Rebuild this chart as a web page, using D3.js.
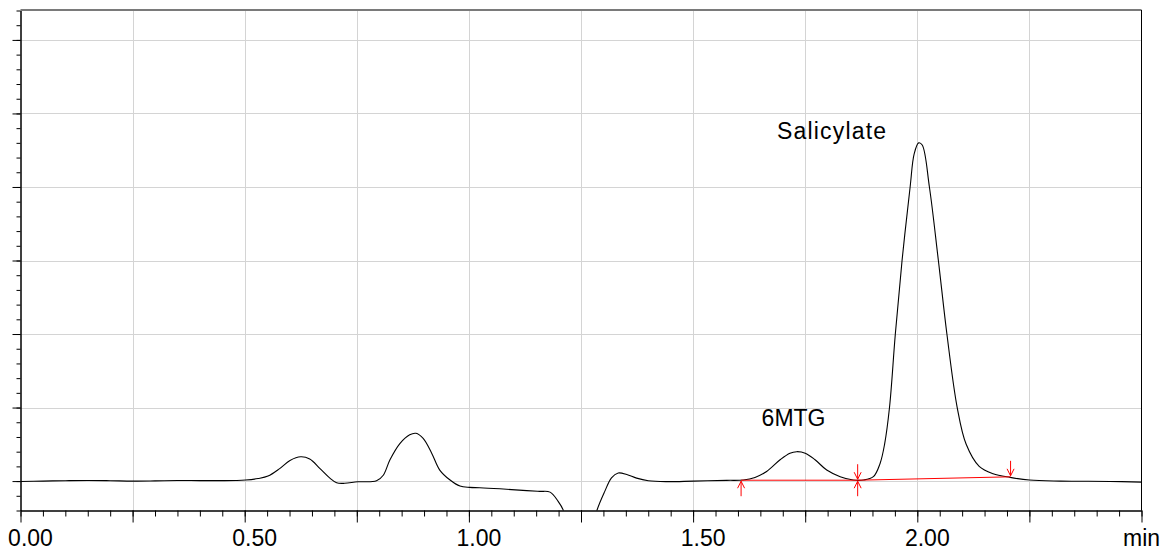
<!DOCTYPE html>
<html>
<head>
<meta charset="utf-8">
<script src="https://cdn.jsdelivr.net/npm/d3@7"></script>
<style>
  body { margin: 0; background: #fff; }
  svg { display: block; font-family: "Liberation Sans", Arial, sans-serif; }
  .grid line { stroke: #d4d4d4; stroke-width: 1; }
  .axis path, .axis line { stroke: #000; }
</style>
</head>
<body>
<svg id="chart"></svg>
<script>
// chromatogram trace (time in min, detector signal)
const timeMin = [0.000, 0.05, 0.10, 0.15, 0.20, 0.25, 0.30, 0.35, 0.40, 0.45, 0.48,
  0.502, 0.53, 0.552, 0.578, 0.601, 0.625, 0.645, 0.668, 0.690, 0.705, 0.723, 0.752,
  0.794, 0.809, 0.824, 0.846, 0.868, 0.882, 0.898, 0.917, 0.935, 0.958, 0.980, 1.002,
  1.024, 1.069, 1.129, 1.158, 1.181, 1.199, 1.210, 1.225, 1.245, 1.268, 1.286, 1.303,
  1.318, 1.333, 1.352, 1.374, 1.400, 1.441, 1.500, 1.575, 1.612, 1.638, 1.664, 1.694,
  1.716, 1.731, 1.750, 1.772, 1.798, 1.828, 1.857, 1.880, 1.902, 1.917, 1.927, 1.938,
  1.951, 1.966, 1.984, 1.993, 2.003, 2.011, 2.027, 2.047, 2.066, 2.089, 2.109, 2.138,
  2.169, 2.207, 2.25, 2.32, 2.43, 2.5]
const signal = [-0.005, 0.0, 0.005, 0.008, 0.005, 0.0, 0.003, 0.008, 0.006, 0.006, 0.008,
  0.014, 0.035, 0.068, 0.17, 0.28, 0.33, 0.30, 0.17, 0.04, -0.023, -0.03, -0.01,
  0.004, 0.08, 0.29, 0.51, 0.63, 0.65, 0.58, 0.38, 0.15, 0.014, -0.068, -0.086,
  -0.09, -0.105, -0.13, -0.14, -0.15, -0.275, -0.39, -0.75, -1.0, -0.8, -0.39, -0.14,
  0.045, 0.11, 0.09, 0.04, 0.005, -0.007, 0.0, 0.01, 0.015, 0.05, 0.13, 0.29,
  0.38, 0.40, 0.38, 0.29, 0.15, 0.06, 0.015, 0.015, 0.06, 0.24, 0.5, 1.0,
  2.0, 3.0, 4.0, 4.45, 4.6, 4.57, 4.0, 3.0, 2.0, 1.0, 0.5, 0.2,
  0.1, 0.05, 0.014, 0.0, -0.005, -0.014]

// integration baselines (red)
const intStart = [1.607, 1.867]
const intEnd = [1.867, 2.208]
const intStartLevel = [0.012, 0.012]
const intEndLevel = [0.012, 0.058]

// peak names
const peakNames = ['6MTG', 'Salicylate']
const peakLabelTime = [1.724, 1.81]
const peakLabelLevel = [0.746, 4.65]

// axis labels
const xLabelValues = [0, 0.5, 1.0, 1.5, 2.0, 2.5]
const xLabelText = ['0.00', '0.50', '1.00', '1.50', '2.00', 'min']

const W = 1170, H = 554
const svg = d3.select('#chart').attr('width', W).attr('height', H)

const x = d3.scaleLinear().domain([0, 2.5]).range([20.5, 1141.5])
const y = d3.scaleLinear().domain([-0.4, 6.4]).range([510.5, 10.5])

// grid
const grid = svg.append('g').classed('grid', true)
grid.selectAll('line.v')
    .data(d3.range(1, 10).map(i => i * 0.25))
    .join('line').attr('class', 'v')
    .attr('x1', d => Math.round(x(d)) + 0.5).attr('x2', d => Math.round(x(d)) + 0.5)
    .attr('y1', y(6.4)).attr('y2', y(-0.4))
grid.selectAll('line.h')
    .data(d3.range(0, 7))
    .join('line').attr('class', 'h')
    .attr('y1', d => Math.round(y(d)) + 0.5).attr('y2', d => Math.round(y(d)) + 0.5)
    .attr('x1', x(0)).attr('x2', x(2.5))

// top and right frame
svg.append('line').attr('x1', x(0)).attr('x2', x(2.5)).attr('y1', 10).attr('y2', 10)
    .attr('stroke', '#7a7a7a').attr('stroke-width', 2)
svg.append('line').attr('x1', x(2.5)).attr('x2', x(2.5)).attr('y1', 10).attr('y2', y(-0.4))
    .attr('stroke', '#000')

// x axis: minor, major, labels
const xMinor = d3.range(0, 51).map(i => i * 0.05)
const xMajor = d3.range(0, 11).map(i => i * 0.25)
svg.append('g').classed('axis', true)
    .attr('transform', `translate(0,${y(-0.4)})`)
    .call(d3.axisBottom(x).tickValues(xMinor).tickSize(6).tickSizeOuter(0).tickFormat(''))
svg.append('g').classed('axis', true)
    .attr('transform', `translate(0,${y(-0.4)})`)
    .call(d3.axisBottom(x).tickValues(xMajor).tickSize(12).tickSizeOuter(0).tickFormat(''))
svg.append('g')
    .selectAll('text')
    .data(xLabelValues)
    .join('text')
    .attr('x', (d, i) => x(d) + (i === xLabelValues.length - 1 ? 0 : 10))
    .attr('y', 546)
    .attr('text-anchor', 'middle')
    .attr('font-size', 23)
    .attr('fill', '#000')
    .text((d, i) => xLabelText[i])

// y axis: ticks only
const yMinor = d3.range(0, 35).map(i => -0.4 + i * 0.2)
svg.append('g').classed('axis', true)
    .attr('transform', `translate(${x(0)},0)`)
    .call(d3.axisLeft(y).tickValues(yMinor).tickSize(4).tickSizeOuter(0).tickFormat(''))
svg.append('g').classed('axis', true)
    .attr('transform', `translate(${x(0)},0)`)
    .call(d3.axisLeft(y).tickValues(d3.range(0, 7)).tickSize(8).tickSizeOuter(0).tickFormat(''))

// trace
svg.append('clipPath').attr('id', 'plotclip')
    .append('rect').attr('x', x(0)).attr('y', y(6.4)).attr('width', x(2.5) - x(0)).attr('height', y(-0.4) - y(6.4))

const pts = timeMin.map((t, i) => [t, signal[i]])
svg.append('path')
    .attr('clip-path', 'url(#plotclip)')
    .attr('fill', 'none')
    .attr('stroke', '#000')
    .attr('stroke-width', 1.1)
    .attr('d', d3.line().x(d => x(d[0])).y(d => y(d[1])).curve(d3.curveCatmullRom.alpha(0.5))(pts))

// integration baselines and markers
const red = svg.append('g').attr('stroke', '#ff0000').attr('fill', 'none').attr('stroke-width', 1)
intStart.forEach((t, i) => {
  red.append('line')
      .attr('x1', x(t)).attr('y1', y(intStartLevel[i]))
      .attr('x2', x(intEnd[i])).attr('y2', y(intEndLevel[i]))
  // start marker: arrow from below pointing up
  const sx = x(t), sy = y(intStartLevel[i])
  red.append('path').attr('d', `M${sx},${sy + 16}V${sy + 1}M${sx - 3.5},${sy + 8}L${sx},${sy + 1}L${sx + 3.5},${sy + 8}`)
  // end marker: arrow from above pointing down
  const ex = x(intEnd[i]), ey = y(intEndLevel[i])
  red.append('path').attr('d', `M${ex},${ey - 16}V${ey - 1}M${ex - 3.5},${ey - 8}L${ex},${ey - 1}L${ex + 3.5},${ey - 8}`)
})

// peak labels
svg.append('g')
    .selectAll('text')
    .data(peakNames)
    .join('text')
    .attr('x', (d, i) => x(peakLabelTime[i]))
    .attr('y', (d, i) => y(peakLabelLevel[i]))
    .attr('text-anchor', 'middle')
    .attr('font-size', 23)
    .attr('letter-spacing', d => d === 'Salicylate' ? 1.2 : 0)
    .attr('fill', '#000')
    .text(d => d)
</script>
</body>
</html>
